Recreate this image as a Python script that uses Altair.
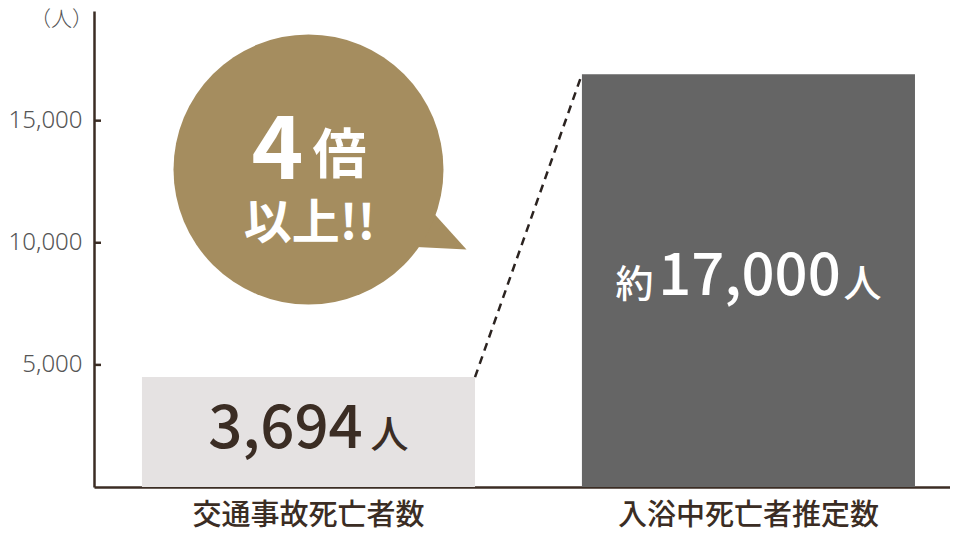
import altair as alt
import pandas as pd

# ---- data ----
categories = ["交通事故死亡者数", "入浴中死亡者推定数"]
bar_heights = [4500, 16900]          # drawn heights (people)
bar_colors = ["#e5e2e2", "#656565"]
label_prefix = ["", "約"]
label_numbers = ["3,694", "17,000"]
label_suffix = ["人", "人"]
label_colors = ["#3b2d24", "#ffffff"]
y_ticks = [5000, 10000, 15000]
y_max = 19490
bubble_value = 13000
bubble_texts = ["4", "倍", "以上!!"]
axis_unit = "（人）"

DARK = "#3b2d24"
GOLD = "#a58d5f"

bars_df = pd.DataFrame({
    "category": categories,
    "value": bar_heights,
    "color": bar_colors,
    "prefix": label_prefix,
    "number": label_numbers,
    "suffix": label_suffix,
    "tcolor": label_colors,
})
conn_df = pd.DataFrame({
    "from_cat": [categories[0]], "to_cat": [categories[1]],
    "from_v": [bar_heights[0]], "to_v": [bar_heights[1]],
})
bubble_df = pd.DataFrame({"category": [categories[0]], "value": [bubble_value]})
ticks_df = pd.DataFrame({"t": y_ticks})

xscale = alt.Scale(domain=categories, paddingInner=0.243, paddingOuter=0.0943, align=0.578)
yscale = alt.Scale(domain=[0, y_max], nice=False, zero=True)

x_axis = alt.Axis(title=None, labelAngle=0, ticks=False, labelLimit=0,
                  domainColor=DARK, domainWidth=2.5,
                  labelFont="Noto Sans CJK JP", labelFontSize=29,
                  labelFontWeight=500, labelColor=DARK, labelPadding=14)
y_axis = alt.Axis(values=y_ticks, labelExpr="format(datum.value, ',')", grid=False, ticks=False,
                  domainColor=DARK, domainWidth=2.5,
                  labelFont="Noto Sans", labelFontSize=24, labelFontWeight=300,
                  labelColor="#555555", labelPadding=12,
                  title=axis_unit, titleAngle=0, titleX=-33, titleY=8,
                  titleAlign="center", titleBaseline="middle",
                  titleFont="Noto Sans CJK JP", titleFontSize=21,
                  titleFontWeight=300, titleColor="#555555")


def X(field, **kw):
    return alt.X(field, scale=xscale, sort=categories, axis=x_axis, **kw)


def Y(field):
    return alt.Y(field, scale=yscale, axis=y_axis)


base = alt.Chart(bars_df)

bars = base.mark_bar().encode(x=X("category:N"), y=Y("value:Q"),
                              color=alt.Color("color:N", scale=None))

ticks = alt.Chart(ticks_df).mark_rule(color=DARK, strokeWidth=2.5).encode(
    y=Y("t:Q"), x=alt.value(0), x2=alt.value(7))

connector = alt.Chart(conn_df).mark_rule(color="#2b2320", strokeWidth=2.5, strokeDash=[8, 6]).encode(
    x=X("from_cat:N", bandPosition=1),
    x2=alt.X2("to_cat", bandPosition=0),
    y=Y("from_v:Q"),
    y2=alt.Y2("to_v"),
)

bub_x = X("category:N")
bub_y = Y("value:Q")
circle = alt.Chart(bubble_df).mark_point(shape="circle", filled=True, size=72900,
                                          color=GOLD, opacity=1).encode(x=bub_x, y=bub_y)
tail = alt.Chart(bubble_df).mark_point(
    shape="M 0.9875 0.5 L 0.6375 0.1125 L 0.4875 0.475 Z",
    filled=True, size=102400, color=GOLD, opacity=1).encode(x=bub_x, y=bub_y)

bt4 = alt.Chart(bubble_df).mark_text(text=bubble_texts[0], font="Noto Sans CJK JP", fontWeight="bold",
                                     fontSize=88, color="white", align="center",
                                     baseline="alphabetic", dx=-31, dy=9).encode(x=bub_x, y=bub_y)
btb = alt.Chart(bubble_df).mark_text(text=bubble_texts[1], font="Noto Sans CJK JP", fontWeight="bold",
                                     fontSize=54, color="white", align="center",
                                     baseline="alphabetic", dx=31, dy=4).encode(x=bub_x, y=bub_y)
bti = alt.Chart(bubble_df).mark_text(text=bubble_texts[2], font="Noto Sans CJK JP", fontWeight="bold",
                                     fontSize=48, color="white", align="center",
                                     baseline="alphabetic", dx=1, dy=69).encode(x=bub_x, y=bub_y)

mid = base.transform_calculate(mid="datum.value / 2")
lx = X("category:N")
ly = Y("mid:Q")
tc = alt.Color("tcolor:N", scale=None)

num1 = mid.transform_filter(alt.datum.category == categories[0]).mark_text(
    font="Noto Sans CJK JP", fontWeight=500, fontSize=60, align="center", baseline="middle", dx=-23, dy=-2
).encode(x=lx, y=ly, text="number:N", color=tc)
suf1 = mid.transform_filter(alt.datum.category == categories[0]).mark_text(
    font="Noto Sans CJK JP", fontWeight=500, fontSize=38, align="center", baseline="middle", dx=81, dy=5
).encode(x=lx, y=ly, text="suffix:N", color=tc)
pre2 = mid.transform_filter(alt.datum.category == categories[1]).mark_text(
    font="Noto Sans CJK JP", fontWeight=500, fontSize=38, align="center", baseline="middle", dx=-114, dy=5
).encode(x=lx, y=ly, text="prefix:N", color=tc)
num2 = mid.transform_filter(alt.datum.category == categories[1]).mark_text(
    font="Noto Sans CJK JP", fontWeight=500, fontSize=58, align="center", baseline="middle", dx=1, dy=-3
).encode(x=lx, y=ly, text="number:N", color=tc)
suf2 = mid.transform_filter(alt.datum.category == categories[1]).mark_text(
    font="Noto Sans CJK JP", fontWeight=500, fontSize=38, align="center", baseline="middle", dx=114, dy=5
).encode(x=lx, y=ly, text="suffix:N", color=tc)

chart = alt.layer(bars, connector, ticks, tail, circle, bt4, btb, bti,
                  num1, suf1, pre2, num2, suf2).properties(
    width=856, height=476,
    background="white",
    autosize=alt.AutoSizeParams(type="none"),
    padding={"left": 86, "top": 3, "right": 0, "bottom": 45},
).configure_view(strokeWidth=0, stroke="transparent")

chart.save("out.html", embed_options={"renderer": "svg", "actions": False})
